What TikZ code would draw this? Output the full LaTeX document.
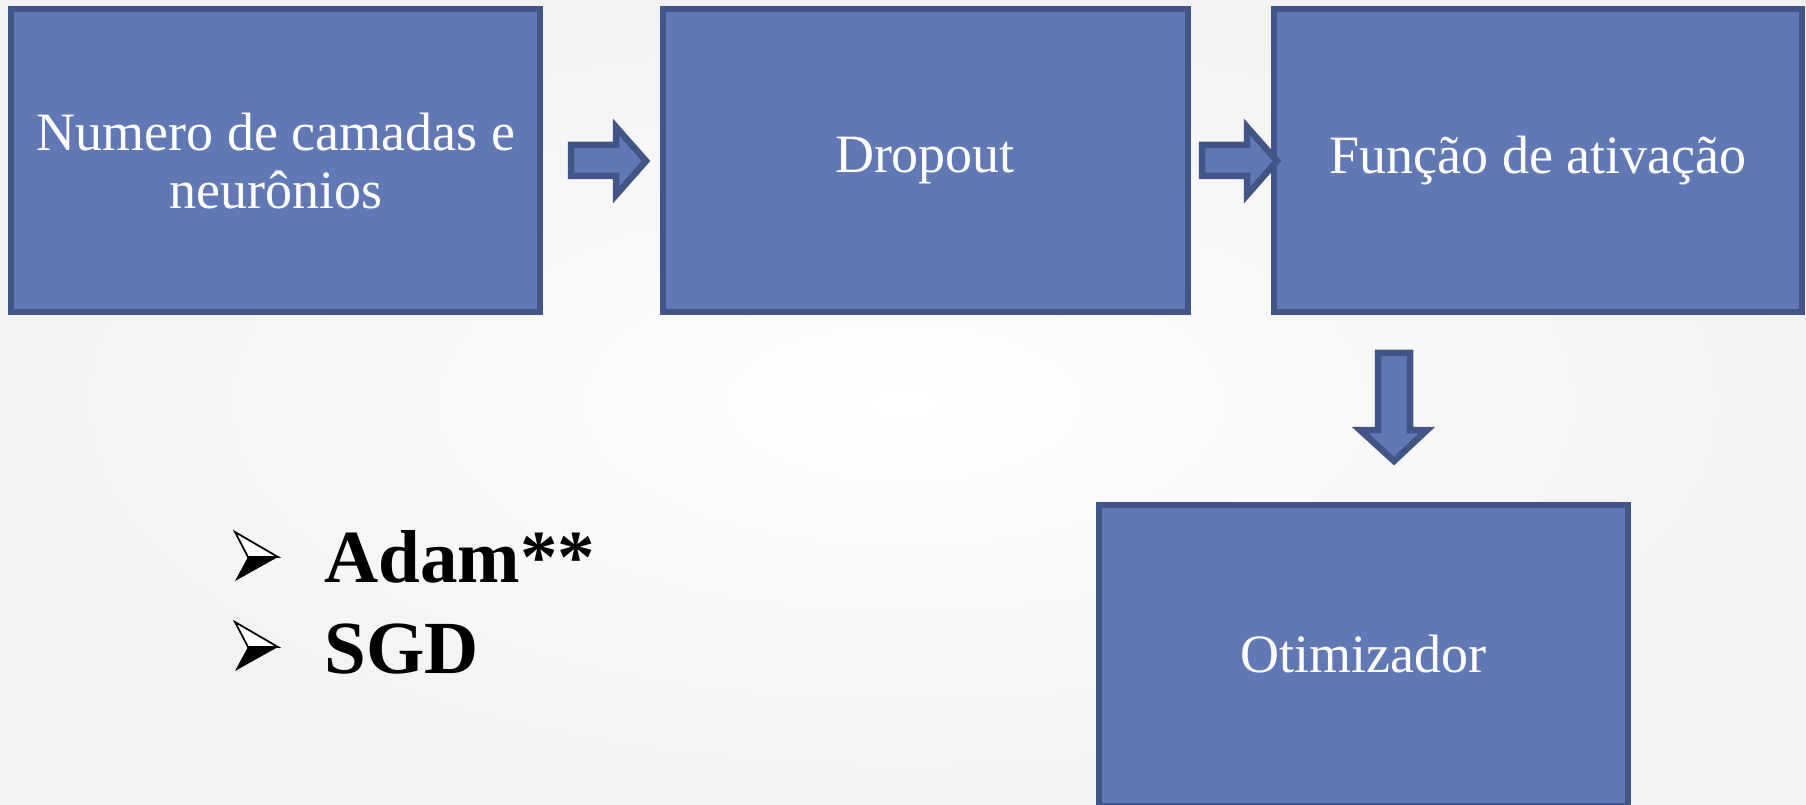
\documentclass[tikz,border=0pt]{standalone}
\usepackage{fontspec}
\setmainfont{Liberation Serif}
\usetikzlibrary{calc}
\definecolor{boxfill}{RGB}{97,120,180}
\definecolor{boxline}{RGB}{67,85,134}
\begin{document}
\begin{tikzpicture}[x=0.4pt,y=-0.4pt,
  blk/.style={draw=boxline,fill=boxfill,line width=2.4pt},
  blkarrow/.style={draw=boxline,fill=boxfill,line width=2.6pt,line join=miter},
  lbl/.style={text=white,align=center,font=\fontsize{21.6}{23.5}\selectfont},
  itm/.style={anchor=base west,inner sep=0pt,font=\fontsize{30}{33}\selectfont\bfseries}]
\shade[inner color=white,outer color=black!5] (0,0) rectangle (1806,805);
\useasboundingbox (0,0) rectangle (1806,805);
% boxes
\draw[blk] (11,9) rectangle (540,312);
\draw[blk] (663,9) rectangle (1188,312);
\draw[blk] (1274,9) rectangle (1802,312);
\draw[blk] (1099,505) rectangle (1628,806);
\node[lbl] (b1) at (276,161) {Numero de camadas e\\neurônios};
\node[lbl] (b2) at (925,161) {Dropout};
\node[lbl] (b3) at (1538,161) {Função de ativação};
\node[lbl] (b4) at (1363,654) {Otimizador};
% block arrows
\draw[blkarrow] (571,145) -- (616,145) -- (616,127) -- (646,161) -- (616,195) -- (616,176) -- (571,176) -- cycle;
\draw[blkarrow] (1202,145) -- (1247,145) -- (1247,127) -- (1277,161) -- (1247,195) -- (1247,176) -- (1202,176) -- cycle;
\draw[blkarrow] (1378,353) -- (1410,353) -- (1410,430) -- (1427,430) -- (1394,461) -- (1360,430) -- (1378,430) -- cycle;
% bullets
\coordinate (l1) at (278,557);
\coordinate (l2) at (278,647);
\foreach \p in {l1,l2}{
  \draw[line width=0.7pt,fill=white,line join=miter] ($(\p)+(-43,-25)$) -- (\p) -- ($(\p)+(-30,0)$) -- cycle;
  \fill[black] ($(\p)+(-30,0)$) -- (\p) -- ($(\p)+(-43,24)$) -- cycle;
}
\node[itm] (i1) at (324,582) {Adam**};
\node[itm] (i2) at (324,673) {SGD};
\end{tikzpicture}
\end{document}
